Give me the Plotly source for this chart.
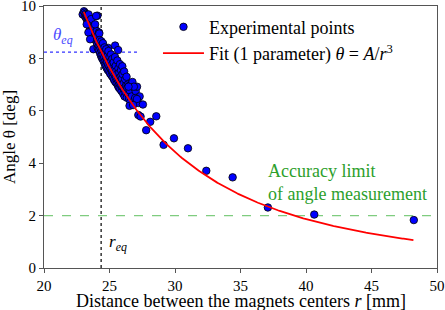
import numpy as np
import plotly.graph_objects as go

# ---- data ----
r_points = [22.95, 23.05, 23.10, 23.12, 23.18, 23.20, 23.25, 23.28, 23.30, 23.35, 23.38, 23.42, 23.45, 23.50,
            23.52, 23.55, 23.60, 23.62, 23.65, 23.70, 23.72, 23.75, 23.80, 23.82, 23.85, 23.90, 23.92, 23.95,
            24.00, 24.02, 23.40, 23.60, 24.08, 23.98, 23.90, 24.20, 23.90, 24.36, 24.90, 25.43, 25.66, 25.05,
            23.26, 23.39, 23.52, 23.77,
            24.05, 24.08, 24.10, 24.12, 24.15, 24.18, 24.20, 24.22, 24.25, 24.28, 24.30, 24.32, 24.35, 24.38,
            24.40, 24.42, 24.45, 24.48, 24.50, 24.50,
            24.55, 24.58, 24.60, 24.62, 24.65, 24.68, 24.70, 24.72, 24.75, 24.78, 24.80, 24.82, 24.85, 24.88,
            24.90, 24.92, 24.95, 24.98, 25.00, 25.00,
            25.05, 25.08, 25.10, 25.12, 25.15, 25.18, 25.20, 25.22, 25.25, 25.28, 25.30, 25.32, 25.35, 25.38,
            25.40, 25.42, 25.45, 25.48, 25.50, 25.50,
            25.55, 25.58, 25.60, 25.62, 25.65, 25.68, 25.70, 25.72, 25.75, 25.78, 25.80, 25.82, 25.85, 25.88,
            25.90, 25.92, 25.95, 25.98, 26.00, 26.00,
            26.05, 26.08, 26.10, 26.12, 26.15, 26.20, 26.22, 26.25, 26.30, 26.32, 26.35, 26.40, 26.45, 26.50, 26.50,
            26.55, 26.60, 26.65, 26.70, 26.75, 26.85, 26.90, 27.00, 27.10, 27.20, 27.30,
            26.96, 27.09, 27.55, 26.53, 26.80, 27.20, 27.37, 28.57, 28.11, 27.80, 26.86, 26.45,
            29.13, 29.92, 30.99, 32.39, 34.40, 37.09, 40.63, 48.23]
theta_points = [9.68, 9.80, 9.75, 9.62, 9.70, 9.55, 9.66, 9.48, 9.60, 9.40, 9.52, 9.30, 9.45, 9.20,
                9.35, 9.10, 9.28, 9.05, 9.18, 8.95, 9.12, 8.88, 9.02, 8.80, 9.20, 8.75, 8.95, 8.70,
                8.88, 9.05, 9.68, 9.50, 9.63, 9.62, 9.30, 8.99, 8.71, 8.53, 8.40, 8.49, 8.32, 8.16,
                9.30, 8.99, 8.73, 8.35,
                8.55, 8.72, 8.40, 8.85, 8.62, 8.48, 8.30, 8.95, 8.70, 8.20, 8.52, 8.38, 8.10, 8.65,
                8.28, 8.02, 8.45, 8.15, 7.95, 8.58,
                8.30, 7.88, 8.05, 8.42, 7.78, 8.18, 7.92, 7.70, 8.35, 8.00, 7.62, 7.85, 8.10, 7.55,
                7.75, 8.28, 7.95, 7.50, 7.70, 8.05,
                7.42, 7.88, 7.60, 8.15, 7.35, 7.75, 7.52, 7.98, 7.28, 7.65, 7.45, 7.85, 7.18, 7.58,
                7.38, 8.05, 7.10, 7.72, 7.30, 7.50,
                7.05, 7.40, 7.92, 7.20, 6.95, 7.62, 7.12, 6.88, 7.45, 7.02, 7.78, 6.82, 7.30, 7.55,
                6.98, 6.75, 7.22, 7.70, 6.90, 7.40,
                6.65, 7.05, 6.85, 7.50, 6.55, 7.20, 6.72, 6.95, 7.30, 6.50, 6.88, 7.00, 6.62, 6.95, 6.45,
                6.78, 6.35, 6.95, 6.55, 7.10, 6.90, 6.40, 6.75, 6.92, 6.30, 6.55,
                6.49, 6.45, 6.24, 6.19, 6.22, 5.84, 5.78, 5.79, 5.58, 5.26, 6.92, 6.92,
                4.70, 4.95, 4.57, 3.71, 3.46, 2.31, 2.04, 1.83]

A_fit = 119500.0          # fit parameter of theta = A / r^3
r_fit_min, r_fit_max = 23.04, 48.2
r_eq = 24.36
theta_eq = 8.24
theta_eq_line_end = 27.27
accuracy_limit = 2.0

x_ticks = [20, 25, 30, 35, 40, 45, 50]
y_ticks = [0, 2, 4, 6, 8, 10]

r_fit = np.linspace(r_fit_min, r_fit_max, 300)
theta_fit = A_fit / r_fit**3

FONT = "Liberation Serif"

fig = go.Figure()
fig.add_trace(go.Scatter(
    x=r_points, y=theta_points, mode="markers",
    marker=dict(color="#0000ff", size=7.5, line=dict(color="black", width=0.8)),
    name="Experimental points", legendgroup="a"))
fig.add_trace(go.Scatter(
    x=r_fit, y=theta_fit, mode="lines",
    line=dict(color="#ff0000", width=1.8),
    name="Fit (1 parameter) <i>θ</i> = <i>A</i>/<i>r</i><sup>3</sup>", legendgroup="b"))

# reference lines
fig.add_shape(type="line", x0=r_eq, x1=r_eq, y0=0, y1=10, xref="x", yref="y",
              line=dict(color="black", width=1.2, dash="dot"), layer="below")
fig.add_shape(type="line", x0=20, x1=theta_eq_line_end, y0=theta_eq, y1=theta_eq, xref="x", yref="y",
              line=dict(color="#3333ff", width=1.2, dash="dot"), layer="below")
fig.add_shape(type="line", x0=20, x1=50, y0=accuracy_limit, y1=accuracy_limit, xref="x", yref="y",
              line=dict(color="#7fcc7f", width=1.2, dash="dash"), layer="below")

fig.add_annotation(x=21.45, y=8.85, text="<i>θ<sub>eq</sub></i>", showarrow=False,
                   font=dict(family=FONT, size=17, color="#4a4aff"))
fig.add_annotation(x=24.8, y=0.95, text="<i>r<sub>eq</sub></i>", showarrow=False,
                   xanchor="left", font=dict(family=FONT, size=17, color="black"))
fig.add_annotation(x=36.95, y=3.25, text="Accuracy limit<br>of angle measurement", showarrow=False,
                   xanchor="left", yanchor="middle", align="left",
                   font=dict(family=FONT, size=18, color="#2ca02c"))
# x-axis title placed as paper annotation for exact vertical position
fig.add_annotation(x=0.5, y=-0.126, xref="paper", yref="paper", yanchor="middle",
                   text="Distance between the magnets centers <i>r</i> [mm]", showarrow=False,
                   font=dict(family=FONT, size=18, color="black"))

axis_common = dict(showline=True, linecolor="#555555", linewidth=1, mirror=True,
                   ticks="outside", ticklen=4, tickcolor="#555555", showgrid=False, zeroline=False,
                   ticklabeloverflow="allow",
                   tickfont=dict(family=FONT, size=15, color="black"))
fig.update_xaxes(range=[20, 50], tickvals=x_ticks, automargin=False, **axis_common)
fig.update_yaxes(range=[0, 10], tickvals=y_ticks, automargin=False,
                 title=dict(text="Angle θ [deg]", font=dict(family=FONT, size=17, color="black"), standoff=4),
                 **axis_common)

fig.update_layout(
    width=445, height=310,
    margin=dict(l=44, r=8, t=6, b=42),
    plot_bgcolor="white", paper_bgcolor="white",
    showlegend=True,
    legend=dict(x=0.29, y=0.99, xanchor="left", yanchor="top", bgcolor="rgba(0,0,0,0)",
                font=dict(family=FONT, size=18, color="black"), traceorder="grouped",
                tracegroupgap=0, itemwidth=41),
)

fig.write_html("out.html", config={"displayModeBar": False},
               post_script="document.body.style.margin='0';document.body.style.padding='0';")
